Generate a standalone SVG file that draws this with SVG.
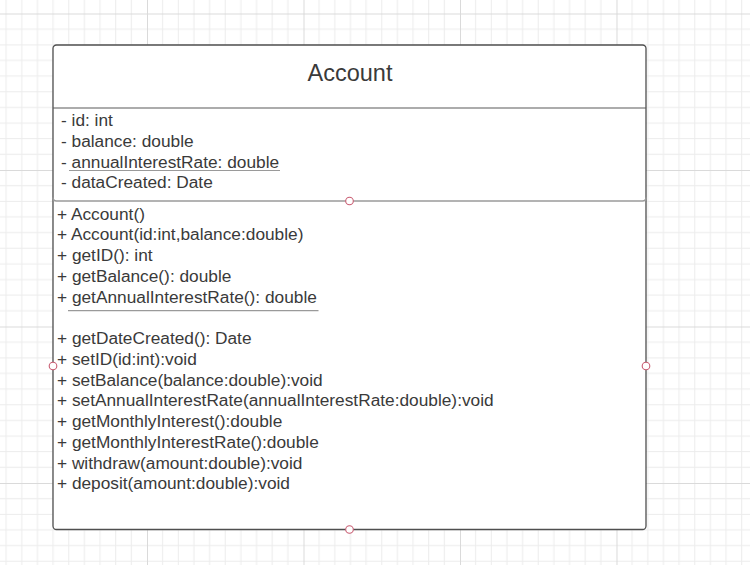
<svg xmlns="http://www.w3.org/2000/svg" width="750" height="565" viewBox="0 0 750 565">
<defs>
<pattern id="grid" patternUnits="userSpaceOnUse" x="147" y="170" width="156.5" height="156.5">
<path d="M15.65 0V156.5M31.3 0V156.5M46.95 0V156.5M62.6 0V156.5M78.25 0V156.5M93.9 0V156.5M109.55 0V156.5M125.2 0V156.5M140.85 0V156.5M0 15.65H156.5M0 31.3H156.5M0 46.95H156.5M0 62.6H156.5M0 78.25H156.5M0 93.9H156.5M0 109.55H156.5M0 125.2H156.5M0 140.85H156.5" stroke="#ececec" stroke-width="1" fill="none"/>
<path d="M0.5 0V156.5M0 0.5H156.5" stroke="#dadada" stroke-width="1" fill="none"/>
</pattern>
</defs>
<style>
.t{font-family:"Liberation Sans",Arial,sans-serif;font-size:17.3px;fill:#3a3a3a}
.title{font-family:"Liberation Sans",Arial,sans-serif;font-size:23.5px;fill:#3a3a3a}
.box{fill:#ffffff;stroke:#4f4f4f;stroke-width:1.3}
.div{fill:none;stroke:#5a5a5a;stroke-width:1.2}
.div2{fill:none;stroke:#9a9a9a;stroke-width:1.4}
.ul{stroke:#9a9a9a;stroke-width:1.2}
.pt{fill:#ffffff;stroke:#c95d72;stroke-width:1.1}
</style>
<rect x="0" y="0" width="750" height="565" fill="#ffffff"/>
<rect x="0" y="0" width="750" height="565" fill="url(#grid)"/>
<g id="connectors"/>
<g id="account">
<rect class="box" x="53" y="45" width="593" height="484.5" rx="3.5"/>
<g id="account-name">
<text class="title" x="350" y="80.5" text-anchor="middle">Account</text>
</g>
<g id="account-attributes">
<line class="div" x1="53" y1="108" x2="646" y2="108"/>
<path class="div2" d="M53 197.5Q53 201 56.5 201H642.5Q646 201 646 197.5"/>
<text class="t" x="61" y="126">- id: int</text>
<text class="t" x="61" y="146.8">- balance: double</text>
<text class="t" x="61" y="167.5">- annualInterestRate: double</text>
<line class="ul" x1="69" y1="170.5" x2="280" y2="170.5"/>
<text class="t" x="61" y="188.3">- dataCreated: Date</text>
</g>
<g id="account-operations">
<text class="t" x="57" y="219.5">+ Account()</text>
<text class="t" x="57" y="240.3">+ Account(id:int,balance:double)</text>
<text class="t" x="57" y="261">+ getID(): int</text>
<text class="t" x="57" y="281.8">+ getBalance(): double</text>
<text class="t" x="57" y="302.5">+ getAnnualInterestRate(): double</text>
<line class="ul" x1="68" y1="310.7" x2="318.5" y2="310.7"/>
<text class="t" x="57" y="344">+ getDateCreated(): Date</text>
<text class="t" x="57" y="364.8">+ setID(id:int):void</text>
<text class="t" x="57" y="385.5">+ setBalance(balance:double):void</text>
<text class="t" x="57" y="406.3">+ setAnnualInterestRate(annualInterestRate:double):void</text>
<text class="t" x="57" y="427">+ getMonthlyInterest():double</text>
<text class="t" x="57" y="447.8">+ getMonthlyInterestRate():double</text>
<text class="t" x="57" y="468.5">+ withdraw(amount:double):void</text>
<text class="t" x="57" y="489.3">+ deposit(amount:double):void</text>
</g>
<g id="account-ports">
<circle class="pt" cx="349.5" cy="201" r="3.8"/>
<circle class="pt" cx="53" cy="366" r="3.8"/>
<circle class="pt" cx="646" cy="366" r="3.8"/>
<circle class="pt" cx="349.5" cy="529.5" r="3.8"/>
</g>
</g>
</svg>
